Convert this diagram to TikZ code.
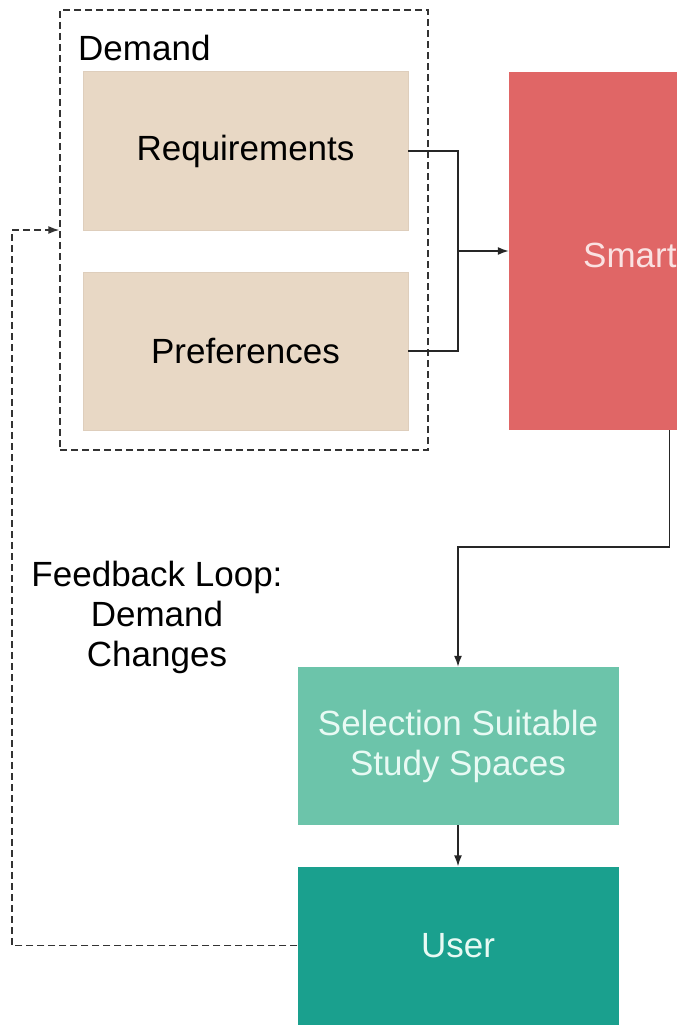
\documentclass[tikz,border=0pt]{standalone}
\usepackage{fontspec}
\setmainfont{Liberation Sans}
\usetikzlibrary{arrows.meta}
\definecolor{beige}{RGB}{232,216,197}
\definecolor{beigeedge}{RGB}{222,206,188}
\definecolor{smartred}{RGB}{224,102,102}
\definecolor{smarttext}{RGB}{250,226,226}
\definecolor{lightgreen}{RGB}{108,196,170}
\definecolor{darkteal}{RGB}{26,160,142}
\definecolor{greentext}{RGB}{232,250,244}
\begin{document}
\begin{tikzpicture}[x=1pt,y=-1pt,
  txt/.style={font=\fontsize{35}{40}\selectfont},
  box/.style={rectangle, inner sep=0pt, align=center, txt},
  line/.style={line width=1.5pt, draw=black!85},
  arr/.style={line, -{Latex[length=11pt,width=8pt]}},
  dline/.style={line width=1.4pt, draw=black!80, dash pattern=on 7pt off 4pt},
  darr/.style={dline, -{Latex[length=11pt,width=8pt]}}]
\useasboundingbox (0,0) rectangle (677,1025);
\clip (0,0) rectangle (677,1025);

% Demand group
\node[dline, rectangle, minimum width=368, minimum height=440, inner sep=0pt] (demand) at (244,230) {};
\node[txt, anchor=west, inner sep=0pt] (dlabel) at (78,48) {Demand};
\node[box, fill=beige, draw=beigeedge, minimum width=325, minimum height=159] (req) at (245.5,151) {Requirements};
\node[box, fill=beige, draw=beigeedge, minimum width=325, minimum height=158] (pref) at (245.5,351) {Preferences};

% Smart box (extends beyond the right edge)
\node[box, fill=smartred, minimum width=321, minimum height=358] (smart) at (669.5,251) {};
\node[txt, anchor=west, inner sep=0pt, text=smarttext] (smartlabel) at (583,255) {Smart};

% Selection and user
\node[box, fill=lightgreen, text=greentext, minimum width=321, minimum height=158] (sel) at (458,746) {Selection Suitable\\Study Spaces};
\node[box, fill=darkteal, text=greentext, minimum width=321, minimum height=158] (user) at (458,945.5) {User};

% Feedback label
\node[txt, align=center, inner sep=0pt] (fbtext) at (157,617) {Feedback Loop:\\Demand\\Changes};

% Connectors
\coordinate (j) at (458,251);
\draw[line] (req.east) -| (j);
\draw[line] (pref.east) -| (j);
\draw[arr] (j) -- (smart.west);

\coordinate (k) at (458,547);
\draw[arr] (smart.south) |- (k) -- (sel.north);
\draw[arr] (sel.south) -- (user.north);

\coordinate (fb) at (12,230);
\draw[darr] (user.west) -| (fb) -- (demand.west |- fb);
\end{tikzpicture}
\end{document}
